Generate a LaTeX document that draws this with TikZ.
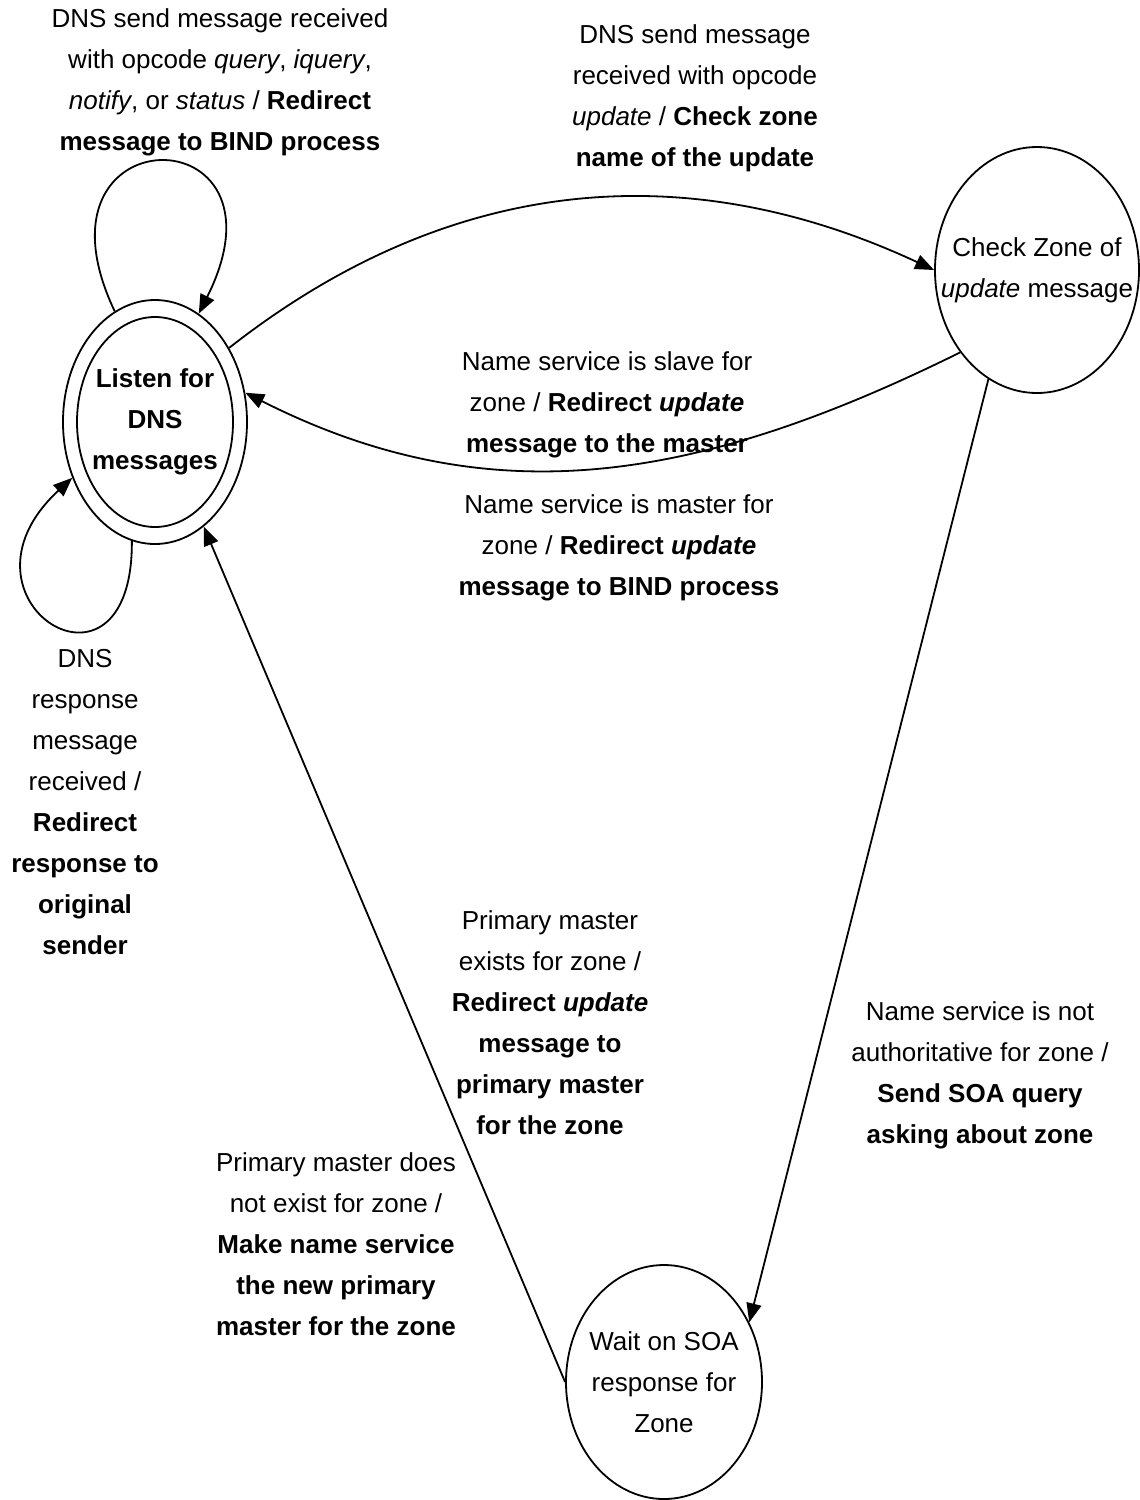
\documentclass[tikz,border=0pt]{standalone}
\usepackage{fontspec}
\setmainfont{Liberation Sans}
\usetikzlibrary{arrows.meta,shapes.geometric}
\newcommand{\fsmfont}{\fontsize{26}{41}\selectfont}
\tikzset{
  fsmstate/.style={draw, ellipse, line width=1.8pt, inner sep=0pt},
  statetext/.style={align=center, font=\fsmfont, inner sep=0pt},
  translabel/.style={align=center, font=\fsmfont, inner sep=0pt},
  trans/.style={-{Triangle[length=19pt,width=15pt]}, line width=1.8pt}
}

\begin{document}
\begin{tikzpicture}[x=1pt,y=-1pt]
\useasboundingbox (0,0) rectangle (1140,1500);
\node[fsmstate, minimum width=184pt, minimum height=244pt] (listen) at (155,422) {};
\node[fsmstate, minimum width=156pt, minimum height=210pt] (listenin) at (155,422) {};
\node[statetext, font=\fsmfont\bfseries] (listentext) at (listen) {Listen for\\DNS\\messages};
\node[fsmstate, minimum width=204pt, minimum height=246pt] (check) at (1037,270) {};
\node[statetext] (checktext) at (check) {Check Zone of\\\textit{update} message};
\node[fsmstate, minimum width=196pt, minimum height=234pt] (wait) at (664,1382) {};
\node[statetext] (waittext) at (wait) {Wait on SOA\\response for\\Zone};
\draw[trans] (listen.110) .. controls (20,112) and (300,112) .. (listen.68);
\draw[trans] (listen.259) .. controls (133,720) and (-60,600) .. (listen.214);
\draw[trans] (listen.45) .. controls (447,177) and (683,153) .. (check.west);
\draw[trans] (check.227) .. controls (698,482) and (491,517) .. (listen.18);
\draw[trans] (check.246) -- (wait.35);
\draw[trans] (wait.west) -- (listen.295);
% transition labels
\node[translabel] (lbquery) at (220,82) {DNS send message received\\with opcode \textit{query}, \textit{iquery},\\\textit{notify}, or \textit{status} / \textbf{Redirect}\\\textbf{message to BIND process}};
\node[translabel] (lbupdate) at (695,98) {DNS send message\\received with opcode\\\textit{update} / \textbf{Check zone}\\\textbf{name of the update}};
\node[translabel] (lbslave) at (607,405) {Name service is slave for\\zone / \textbf{Redirect \textit{update}}\\\textbf{message to the master}};
\node[translabel] (lbmaster) at (619,548) {Name service is master for\\zone / \textbf{Redirect \textit{update}}\\\textbf{message to BIND process}};
\node[translabel] (lbresp) at (85,802) {DNS\\response\\message\\received /\\\textbf{Redirect}\\\textbf{response to}\\\textbf{original}\\\textbf{sender}};
\node[translabel] (lbexists) at (550,1023) {Primary master\\exists for zone /\\\textbf{Redirect \textit{update}}\\\textbf{message to}\\\textbf{primary master}\\\textbf{for the zone}};
\node[translabel] (lbnotauth) at (980,1075) {Name service is not\\authoritative for zone /\\\textbf{Send SOA query}\\\textbf{asking about zone}};
\node[translabel] (lbnew) at (336,1244) {Primary master does\\not exist for zone /\\\textbf{Make name service}\\\textbf{the new primary}\\\textbf{master for the zone}};
\end{tikzpicture}
\end{document}
